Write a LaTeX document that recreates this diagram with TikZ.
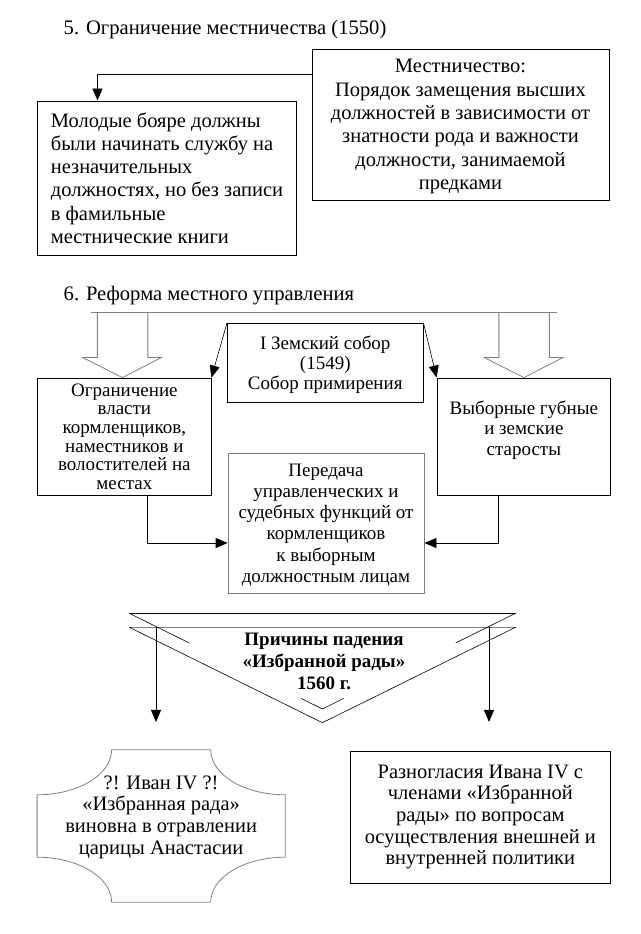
\documentclass[tikz,border=0pt]{standalone}
\usepackage{fontspec}
\setmainfont{Liberation Serif}
\usetikzlibrary{arrows.meta,calc}
\definecolor{lgray}{gray}{0.5}
\newcommand{\fsz}[2]{\fontsize{#1}{#2}\selectfont}
\tikzset{
  box/.style={draw, line width=0.8pt, inner sep=0pt, align=center},
  graybox/.style={box, draw=lgray},
  title/.style={anchor=base west, inner sep=0pt, font=\fsz{20.6}{24}},
  arr/.style={-{Triangle[length=12pt,width=10pt]}, line width=0.8pt},
  grayline/.style={draw=lgray, line width=0.8pt}
}

\begin{document}
\begin{tikzpicture}[x=1pt, y=1pt]
  \useasboundingbox (0,0) rectangle (640,934);

  % 5
  \node[title] (T_5) at (63.5,899) {5. Ограничение местничества (1550)};
  \node[box, minimum width=297pt, minimum height=151pt, text depth=-3.6pt, font=\fsz{20.5}{23.3}] (Mest) at (460.5,809.5)
    {Местничество:\\Порядок замещения высших\\должностей в зависимости от\\знатности рода и важности\\должности, занимаемой\\предками};
  \node[box, align=left, minimum width=259pt, minimum height=154pt, text depth=-6pt, font=\fsz{20.5}{23.3}] (Boyare) at (167,756)
    {Молодые бояре должны\\были начинать службу на\\незначительных\\должностях, но без записи\\в фамильные\\местнические книги};
  \draw[arr] ([yshift=-26pt]Mest.north west) -| ([xshift=-69.5pt]Boyare.north);

  % 6
  \node[title] (T_6) at (63.5,633.3) {6. Реформа местного управления};
  \node[box, minimum width=195.5pt, minimum height=79pt, text depth=0pt, font=\fsz{19}{20}] (Sobor) at (325.25,571.5)
    {I Земский собор\\(1549)\\Собор примирения};
  \node[box, minimum width=173.3pt, minimum height=117pt, text depth=-6pt, font=\fsz{19}{18.6}] (Ogr) at (124.35,497.5)
    {Ограничение\\власти\\кормленщиков,\\наместников и\\волостителей на\\местах};
  \node[box, minimum width=173.7pt, minimum height=117pt, text depth=17pt, font=\fsz{19}{20.5}] (Vybor) at (523.85,497.5)
    {Выборные губные\\и земские\\старосты};
  \node[graybox, minimum width=196pt, minimum height=140pt, text depth=-4pt, font=\fsz{19}{21.2}] (Pered) at (326,411)
    {Передача\\управленческих и\\судебных функций от\\кормленщиков\\к выборным\\должностным лицам};

  \draw[grayline] ([shift={(-33.5pt,65pt)}]Ogr.north) -- ([shift={(33pt,65pt)}]Vybor.north);
  \draw[grayline] ([xshift=-2pt]Ogr.north) ++(-25,65) -- ++(0,-45) -- ++(-14.5,0) -- ([xshift=-2pt]Ogr.north)
    -- ++(39,20) -- ++(-13.5,0) -- ++(0,45);
  \draw[grayline] (Vybor.north) ++(-25,65) -- ++(0,-45) -- ++(-14.5,0) -- (Vybor.north)
    -- ++(39,20) -- ++(-13.5,0) -- ++(0,45);
  \draw[arr, line width=0.6pt] (Sobor.north west) -- (Ogr.north east);
  \draw[arr, line width=0.6pt] (Sobor.north east) -- (Vybor.north west);
  \draw[arr] ([xshift=23pt]Ogr.south) |- ([yshift=-20pt]Pered.west);
  \draw[arr] ([xshift=-25pt]Vybor.south) |- ([yshift=-20pt]Pered.east);

  % 7
  \coordinate (A_l) at (129.3,320.7);
  \coordinate (A_r) at (515.5,320.7);
  \coordinate (A_t) at (322.4,225);
  \coordinate (B_l) at (129.3,306.7);
  \coordinate (B_r) at (515.5,306.7);
  \coordinate (B_t) at (322.4,211.3);
  \draw[line width=0.8pt] (A_l) -- (A_r);
  \draw[grayline] (B_l) -- (B_r);
  \draw[line width=0.6pt] (B_l) -- (B_t) -- (B_r);
  \draw[line width=0.6pt] (A_l) -- ($(A_l)!0.31!(A_t)$);
  \draw[line width=0.6pt] (A_r) -- ($(A_r)!0.31!(A_t)$);
  \draw[line width=0.6pt] ($(A_l)!0.89!(A_t)$) -- (A_t) -- ($(A_r)!0.89!(A_t)$);
  \node[align=center, inner sep=0pt, font=\bfseries\fsz{19}{22}] (Prich) at (324,273)
    {Причины падения\\«Избранной рады»\\1560 г.};

  \node[align=center, inner sep=0pt, minimum width=247.7pt, minimum height=152pt, text depth=22pt,
    font=\fsz{20.5}{21.7}] (Rada) at (161.15,108)
    {?! Иван IV ?!\\«Избранная рада»\\виновна в отравлении\\царицы Анастасии};
  \draw[grayline] ([xshift=-74.5pt]Rada.north east) arc[start angle=180, end angle=270, x radius=74.5pt, y radius=45pt]
    -- ([yshift=45pt]Rada.south east) arc[start angle=90, end angle=180, x radius=74.5pt, y radius=45pt]
    -- ([xshift=74.5pt]Rada.south west) arc[start angle=0, end angle=90, x radius=74.5pt, y radius=45pt]
    -- ([yshift=-45pt]Rada.north west) arc[start angle=270, end angle=360, x radius=74.5pt, y radius=45pt]
    -- cycle;
  \node[box, minimum width=260.7pt, minimum height=132pt, font=\fsz{20.5}{21.7}] (Razn) at (480.35,117)
    {Разногласия Ивана IV с\\членами «Избранной\\рады» по вопросам\\осуществления внешней и\\внутренней политики};

  \coordinate (L_end) at (156,212);
  \coordinate (R_end) at (489,212);
  \draw[arr] (L_end |- B_l) -- (L_end);
  \draw[arr] (R_end |- B_r) -- (R_end);
\end{tikzpicture}
\end{document}
